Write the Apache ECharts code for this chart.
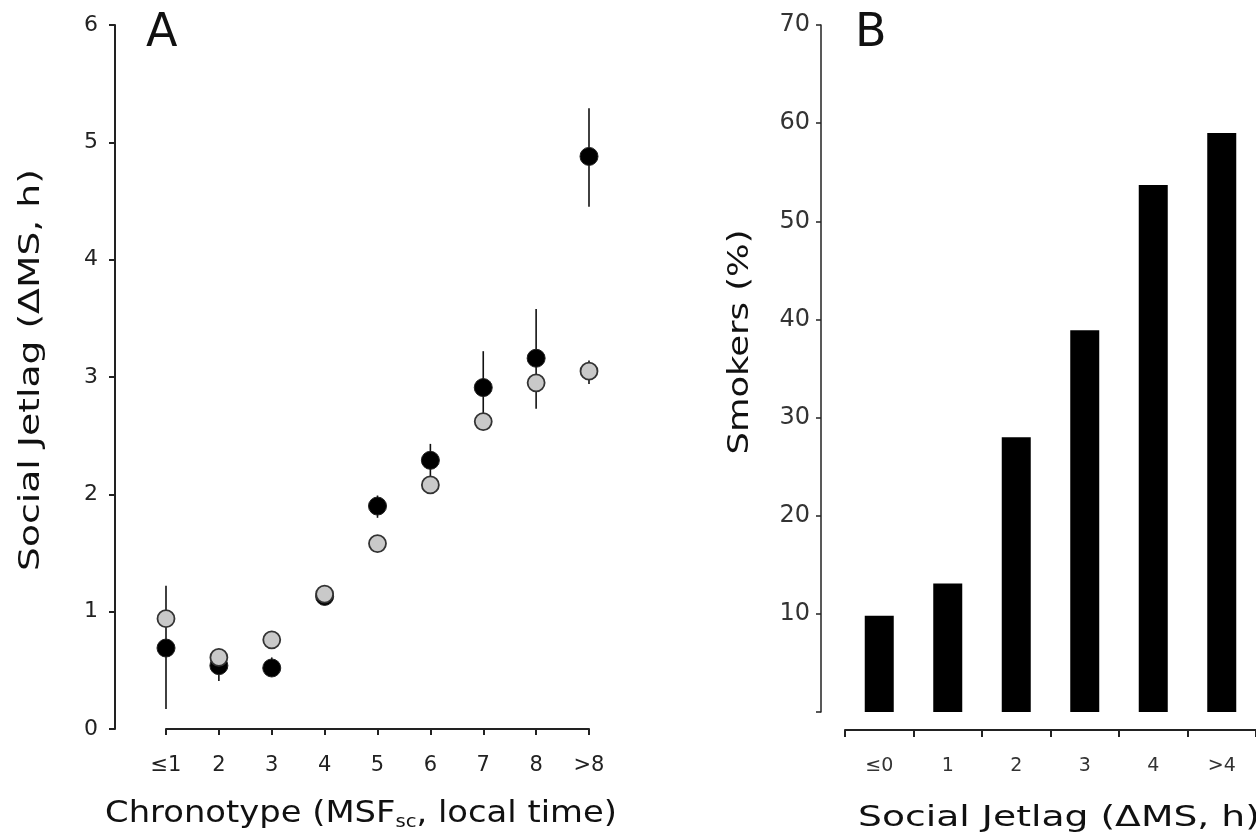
<!DOCTYPE html>
<html>
<head>
<meta charset="utf-8">
<script src="https://cdn.jsdelivr.net/npm/echarts@6/dist/echarts.min.js"></script>
<style>
  html, body { margin: 0; padding: 0; background: #fff; }
  #chart { width: 1256px; height: 840px; }
</style>
</head>
<body>
<div id="chart"></div>
<script>
  // panel A: chronotype vs social jetlag
  var chronoCats = ['≤1', '2', '3', '4', '5', '6', '7', '8', '>8']
  var blackMean = [0.69, 0.54, 0.52, 1.13, 1.90, 2.29, 2.91, 3.16, 4.88]
  var blackLo = [0.17, 0.41, 0.45, 1.10, 1.80, 2.12, 2.62, 2.73, 4.45]
  var blackHi = [1.22, 0.62, 0.61, 1.18, 1.99, 2.43, 3.22, 3.58, 5.29]
  var grayMean = [0.94, 0.61, 0.76, 1.15, 1.58, 2.08, 2.62, 2.95, 3.05]
  var grayLo = [0.91, 0.58, 0.73, 1.12, 1.55, 2.05, 2.59, 2.92, 2.94]
  var grayHi = [0.97, 0.64, 0.79, 1.18, 1.61, 2.11, 2.65, 2.98, 3.14]

  // panel B: social jetlag vs smokers
  var jetlagCats = ['≤0', '1', '2', '3', '4', '>4']
  var smokers = [9.8, 13.1, 28.0, 38.9, 53.7, 59.0]

  var font = 'DejaVu Sans'

  function errData (lo, hi) {
    return lo.map(function (v, i) { return [i, v, hi[i]] })
  }

  function renderErr (params, api) {
    var x = api.value(0)
    var a = api.coord([x, api.value(1)])
    var b = api.coord([x, api.value(2)])
    return {
      type: 'line',
      shape: { x1: a[0], y1: a[1], x2: b[0], y2: b[1] },
      style: { stroke: '#111', lineWidth: 1.6 }
    }
  }

  // stretched text (reference font is wider than DejaVu)
  function title (text, x, y, size, stretch, rotate, rich) {
    return {
      type: 'text',
      x: x,
      y: y,
      rotation: rotate ? Math.PI / 2 : 0,
      scaleX: stretch,
      style: {
        text: text,
        fontSize: size,
        fontFamily: font,
        fill: '#111',
        textAlign: 'center',
        textVerticalAlign: 'middle',
        align: 'center',
        verticalAlign: 'middle',
        rich: rich
      }
    }
  }

  var chart = echarts.init(document.getElementById('chart'), null, { renderer: 'canvas' })

  var option = {
    animation: false,
    backgroundColor: '#fff',
    textStyle: { fontFamily: font },
    grid: [
      { left: 166, top: 25, width: 423, height: 704 },
      { left: 845, top: 25, width: 419, height: 687 }
    ],
    xAxis: [
      {
        gridIndex: 0,
        type: 'category',
        data: chronoCats,
        boundaryGap: false,
        axisLine: { onZero: false, lineStyle: { color: '#222', width: 2 } },
        axisTick: { length: 6, lineStyle: { color: '#222', width: 2 } },
        axisLabel: { color: '#222', fontSize: 21, margin: 26, fontFamily: font }
      },
      {
        gridIndex: 1,
        type: 'category',
        data: jetlagCats,
        offset: 18,
        axisLine: { onZero: false, lineStyle: { color: '#222', width: 2 } },
        axisTick: { show: true, length: 7, lineStyle: { color: '#222', width: 2 } },
        axisLabel: { color: '#333', fontSize: 19, margin: 27, fontFamily: font }
      }
    ],
    yAxis: [
      {
        gridIndex: 0,
        type: 'value',
        min: 0,
        max: 6,
        interval: 1,
        offset: 51,
        splitLine: { show: false },
        axisLine: { show: true, lineStyle: { color: '#222', width: 2 } },
        axisTick: { show: true, length: 6, lineStyle: { color: '#222', width: 2 } },
        axisLabel: { color: '#222', fontSize: 22, margin: 17, fontFamily: font }
      },
      {
        gridIndex: 1,
        type: 'value',
        min: 0,
        max: 70,
        interval: 10,
        offset: 24,
        splitLine: { show: false },
        axisLine: { show: true, lineStyle: { color: '#222', width: 1.5 } },
        axisTick: { show: true, length: 5, lineStyle: { color: '#222', width: 1.5 } },
        axisLabel: {
          color: '#333', fontSize: 24, margin: 11, fontFamily: font,
          formatter: function (v) { return v === 0 ? '' : v }
        }
      }
    ],
    graphic: [
      { type: 'text', left: 146, top: 11, style: { text: 'A', fontSize: 46, fontFamily: font, fill: '#111' } },
      { type: 'text', left: 855, top: 11, style: { text: 'B', fontSize: 46, fontFamily: font, fill: '#111' } },
      title('{n|Chronotype (MSF}{s|sc}{n|, local time)}', 361, 814, 31, 1.09, false, {
        n: { fontSize: 31, fontFamily: font, fill: '#111' },
        s: { fontSize: 18, fontFamily: font, fill: '#111', padding: [16, 0, 0, 0] }
      }),
      title('Social Jetlag (ΔMS, h)', 31, 370, 29, 1.3, true),
      title('Smokers (%)', 740, 342, 29, 1.22, true),
      title('Social Jetlag (ΔMS, h)', 1059, 818, 29, 1.3, false)
    ],
    series: [
      {
        name: 'blackErr',
        type: 'custom',
        xAxisIndex: 0,
        yAxisIndex: 0,
        renderItem: renderErr,
        encode: { x: 0, y: [1, 2] },
        data: errData(blackLo, blackHi),
        z: 1
      },
      {
        name: 'black',
        type: 'scatter',
        xAxisIndex: 0,
        yAxisIndex: 0,
        data: blackMean,
        symbolSize: 18,
        itemStyle: { color: '#000', borderColor: '#222', borderWidth: 1, opacity: 1 },
        z: 2
      },
      {
        name: 'grayErr',
        type: 'custom',
        xAxisIndex: 0,
        yAxisIndex: 0,
        renderItem: renderErr,
        encode: { x: 0, y: [1, 2] },
        data: errData(grayLo, grayHi),
        z: 3
      },
      {
        name: 'gray',
        type: 'scatter',
        xAxisIndex: 0,
        yAxisIndex: 0,
        data: grayMean,
        symbolSize: 17,
        itemStyle: { color: '#c9c9c9', borderColor: '#333', borderWidth: 1.8, opacity: 1 },
        z: 4
      },
      {
        name: 'smokers',
        type: 'bar',
        xAxisIndex: 1,
        yAxisIndex: 1,
        data: smokers,
        barWidth: 29,
        itemStyle: { color: '#000' }
      }
    ]
  }

  chart.setOption(option)
  window.addEventListener('resize', function () { chart.resize() })
</script>
</body>
</html>
